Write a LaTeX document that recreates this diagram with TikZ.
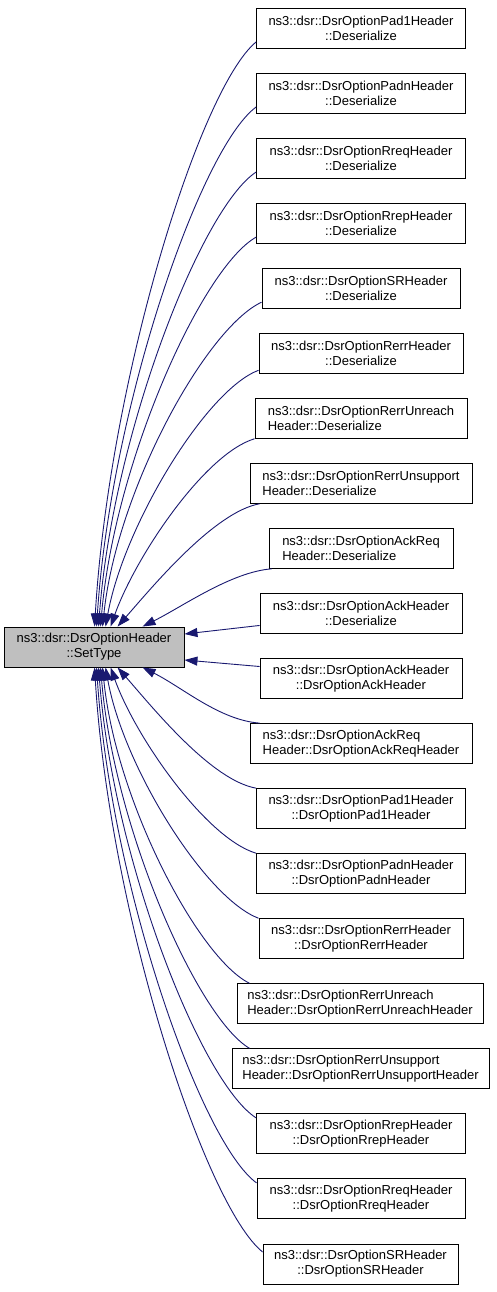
\documentclass[tikz,border=0pt]{standalone}
\usepackage{fontspec}
\setmainfont{Liberation Sans}
\usetikzlibrary{arrows.meta}
\definecolor{edgeblue}{HTML}{191970}
\definecolor{boxgray}{HTML}{BFBFBF}
\begin{document}
\begin{tikzpicture}[x=1pt,y=-1pt,
  box/.style={draw=black, line width=0.9pt, fill=white, minimum height=40pt, inner sep=2pt, font=\fontsize{13}{15}\selectfont, align=center},
  lbox/.style={box, align=left},
  edge/.style={draw=edgeblue, line width=0.9pt, -{Triangle[length=13pt,width=9pt]}},
]
\useasboundingbox (0,0) rectangle (496,1292);

\node[box, fill=boxgray, minimum width=180pt] (L) at (94,647) {ns3::dsr::DsrOptionHeader\\::SetType};

\node[box,  minimum width=209pt] (n1)  at (361,28)      {ns3::dsr::DsrOptionPad1Header\\::Deserialize};
\node[box,  minimum width=209pt] (n2)  at (361,93.05)   {ns3::dsr::DsrOptionPadnHeader\\::Deserialize};
\node[box,  minimum width=209pt] (n3)  at (361,158.1)   {ns3::dsr::DsrOptionRreqHeader\\::Deserialize};
\node[box,  minimum width=209pt] (n4)  at (361,223.15)  {ns3::dsr::DsrOptionRrepHeader\\::Deserialize};
\node[box,  minimum width=198pt] (n5)  at (361,288.2)   {ns3::dsr::DsrOptionSRHeader\\::Deserialize};
\node[box,  minimum width=204pt] (n6)  at (361,353.25)  {ns3::dsr::DsrOptionRerrHeader\\::Deserialize};
\node[lbox, minimum width=212pt] (n7)  at (361,418.3)   {ns3::dsr::DsrOptionRerrUnreach\\Header::Deserialize};
\node[lbox, minimum width=222pt] (n8)  at (361,483.35)  {ns3::dsr::DsrOptionRerrUnsupport\\Header::Deserialize};
\node[lbox, minimum width=184pt] (n9)  at (361,548.4)   {ns3::dsr::DsrOptionAckReq\\Header::Deserialize};
\node[box,  minimum width=202pt] (n10) at (361,613.45)  {ns3::dsr::DsrOptionAckHeader\\::Deserialize};
\node[box,  minimum width=202pt] (n11) at (361,678.5)   {ns3::dsr::DsrOptionAckHeader\\::DsrOptionAckHeader};
\node[lbox, minimum width=222pt] (n12) at (361,743.55)  {ns3::dsr::DsrOptionAckReq\\Header::DsrOptionAckReqHeader};
\node[box,  minimum width=209pt] (n13) at (361,808.6)   {ns3::dsr::DsrOptionPad1Header\\::DsrOptionPad1Header};
\node[box,  minimum width=209pt] (n14) at (361,873.65)  {ns3::dsr::DsrOptionPadnHeader\\::DsrOptionPadnHeader};
\node[box,  minimum width=204pt] (n15) at (361,938.7)   {ns3::dsr::DsrOptionRerrHeader\\::DsrOptionRerrHeader};
\node[lbox, minimum width=246pt] (n16) at (360,1003.75) {ns3::dsr::DsrOptionRerrUnreach\\Header::DsrOptionRerrUnreachHeader};
\node[lbox, minimum width=257pt] (n17) at (360.5,1068.8){ns3::dsr::DsrOptionRerrUnsupport\\Header::DsrOptionRerrUnsupportHeader};
\node[box,  minimum width=209pt] (n18) at (361,1133.85) {ns3::dsr::DsrOptionRrepHeader\\::DsrOptionRrepHeader};
\node[box,  minimum width=208pt] (n19) at (361,1198.9)  {ns3::dsr::DsrOptionRreqHeader\\::DsrOptionRreqHeader};
\node[box,  minimum width=195pt] (n20) at (360.5,1263.95){ns3::dsr::DsrOptionSRHeader\\::DsrOptionSRHeader};

% edges into the top of L
\draw[edge] ([yshift=-14pt]n1.west) .. controls +(-56.7,46.8) and +(14.6,-245.7) .. ([xshift=91pt]L.north west);
\draw[edge] ([yshift=-14pt]n2.west) .. controls +(-56,41.6) and +(14.4,-218.4) .. ([xshift=93pt]L.north west);
\draw[edge] ([yshift=-14pt]n3.west) .. controls +(-55.3,36.4) and +(14.2,-191.1) .. ([xshift=95pt]L.north west);
\draw[edge] ([yshift=-14pt]n4.west) .. controls +(-54.6,31.2) and +(14,-163.8) .. ([xshift=97pt]L.north west);
\draw[edge] ([yshift=-14pt]n5.west) .. controls +(-55.7,26) and +(14.3,-136.5) .. ([xshift=99pt]L.north west);
\draw[edge] ([yshift=-17pt]n6.west) .. controls +(-53,20) and +(18,-100) .. ([xshift=102pt]L.north west);
\draw[edge] (n7.south west) .. controls +(-50,15) and +(25,-70) .. ([xshift=107pt]L.north west);
\draw[edge] ([xshift=10pt]n8.south west) .. controls +(-45,8) and +(35,-40) .. ([xshift=114pt]L.north west);
\draw[edge] ([xshift=3pt]n9.south west) .. controls +(-40,3) and +(40,-20) .. ([xshift=139pt]L.north west);
% edges into the right side of L
\draw[edge] ([yshift=-12pt]n10.west) -- ([yshift=13pt]L.east);
\draw[edge] ([yshift=12pt]n11.west) -- ([yshift=-13pt]L.east);
% edges into the bottom of L
\draw[edge] ([xshift=10pt]n12.north west) .. controls +(-40,-3) and +(40,20) .. ([xshift=139pt]L.south west);
\draw[edge] (n13.north west) .. controls +(-45,-8) and +(35,40) .. ([xshift=114pt]L.south west);
\draw[edge] (n14.north west) .. controls +(-50,-15) and +(25,70) .. ([xshift=107pt]L.south west);
\draw[edge] (n15.north west) .. controls +(-53,-20) and +(18,100) .. ([xshift=102pt]L.south west);
\draw[edge] ([xshift=13pt]n16.north west) .. controls +(-51.5,-25.4) and +(13.2,133) .. ([xshift=99pt]L.south west);
\draw[edge] ([xshift=18pt]n17.north west) .. controls +(-52,-30.6) and +(13.4,160.4) .. ([xshift=97pt]L.south west);
\draw[edge] ([yshift=16pt]n18.west) .. controls +(-55.7,-36) and +(14.3,189.4) .. ([xshift=95pt]L.south west);
\draw[edge] ([yshift=16pt]n19.west) .. controls +(-56.4,-41.3) and +(14.5,216.7) .. ([xshift=93pt]L.south west);
\draw[edge] ([yshift=12pt]n20.west) .. controls +(-57.8,-46.8) and +(14.9,245.7) .. ([xshift=91pt]L.south west);
\end{tikzpicture}
\end{document}
